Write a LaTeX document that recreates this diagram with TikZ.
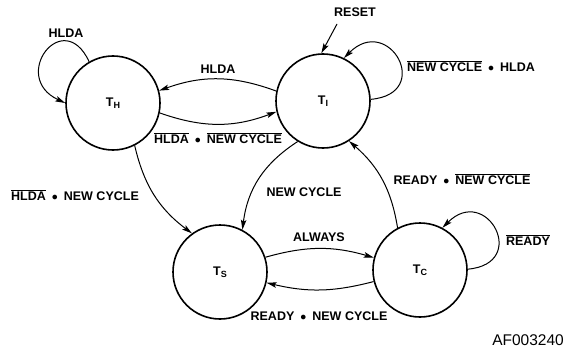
\documentclass[tikz,border=0pt]{standalone}
\usepackage{fontspec}
\setmainfont{Liberation Sans}
\usetikzlibrary{arrows.meta}
\newcommand{\bdot}{\hspace{6pt}$\bullet$\hspace{6pt}}
\newcommand{\ovl}[1]{$\overline{\mbox{#1}}$}
\begin{document}
\begin{tikzpicture}[x=1pt,y=1pt,
  state/.style={circle,draw,line width=1.6pt,minimum size=94pt,inner sep=0pt,
    font=\fontsize{12.5}{14}\selectfont\bfseries},
  conn/.style={line width=1pt,-{Stealth[length=10pt,width=5.5pt,inset=2pt]}},
  lbl/.style={anchor=base,inner sep=0pt,font=\fontsize{12.5}{14}\selectfont\bfseries}]
\useasboundingbox (0,0) rectangle (565,349);
% states
\node[state] (TH) at (113,246) {T\raisebox{-2.5pt}{\fontsize{9}{10}\selectfont H}};
\node[state] (TI) at (323,248) {T\raisebox{-2.5pt}{\fontsize{9}{10}\selectfont I}};
\node[state] (TS) at (220,77) {T\raisebox{-2.5pt}{\fontsize{9}{10}\selectfont S}};
\node[state] (TC) at (420,79) {T\raisebox{-2.5pt}{\fontsize{9}{10}\selectfont C}};
% labels
\node[lbl] (lHloop) at (66,311) {HLDA};
\node[lbl] (lHI) at (218,276) {HLDA};
\node[lbl] (lIH) at (218,206) {\ovl{HLDA}\bdot\ovl{NEW CYCLE}};
\node[lbl] (lreset) at (355,332) {RESET};
\node[lbl] (lIloop) at (471,278) {\ovl{NEW CYCLE}\bdot HLDA};
\node[lbl] (lCI) at (462,165) {READY\bdot\ovl{NEW CYCLE}};
\node[lbl] (lIS) at (304,153) {NEW CYCLE};
\node[lbl] (lHS) at (75,149) {\ovl{HLDA}\bdot NEW CYCLE};
\node[lbl] (lSC) at (319,108) {ALWAYS};
\node[lbl] (lCloop) at (528,104) {\ovl{READY}};
\node[lbl] (lCS) at (319,29) {READY\bdot NEW CYCLE};
\node[anchor=base east,inner sep=0pt,font=\fontsize{15.5}{17}\selectfont] (af) at (564,4) {AF003240};
% reset arrow
\coordinate (rs) at (337,325);
\draw[conn] (rs) -- (TI.92);
% self loops
\draw[conn] (TH.120) to[out=115,in=155,looseness=3.3] (TH.180);
\draw[conn] (TI.2) to[out=5,in=45,looseness=3.3] (TI.64);
\draw[conn] (TC.1) to[out=5,in=45,looseness=3.3] (TC.62);
% transitions
\draw[conn] (TI.168) to[bend right=20] (TH.15);
\draw[conn] (TH.-12) to[bend right=20] (TI.193);
\draw[conn] (TH.-63) to[bend right=20] (TS.126);
\draw[conn] (TI.238) to[bend right=25] (TS.62);
\draw[conn] (TS.18) to[bend left=16] (TC.165);
\draw[conn] (TC.194) to[bend left=14] (TS.-13);
\draw[conn] (TC.118) to[bend right=20] (TI.-57);
\end{tikzpicture}
\end{document}
